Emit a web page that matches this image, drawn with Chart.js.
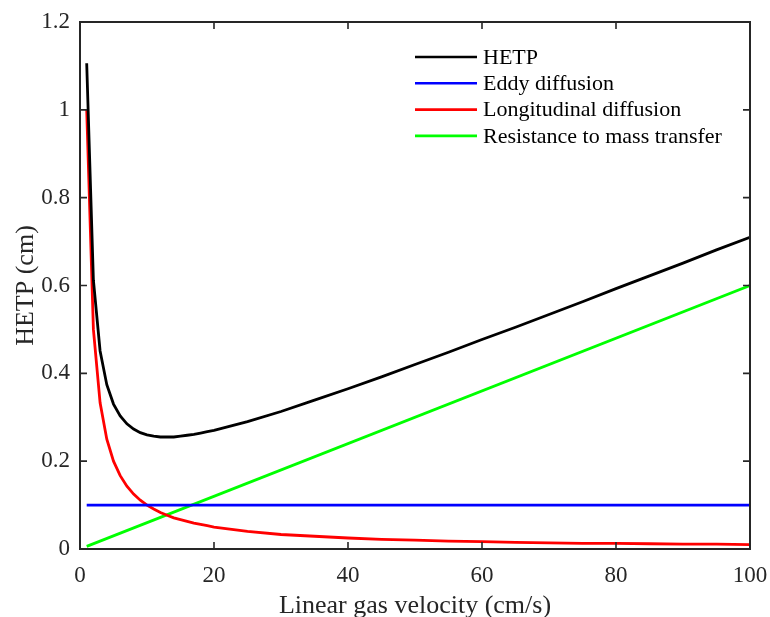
<!DOCTYPE html>
<html><head><meta charset="utf-8">
<script src="https://cdn.jsdelivr.net/npm/chart.js@4.4.0/dist/chart.umd.min.js"></script>
<style>html,body{margin:0;padding:0;background:#fff}#wrap{width:770px;height:617px}</style>
</head><body><div id="wrap"><canvas id="c" width="770" height="617"></canvas></div>
<script>
const velocity = [1,2,3,4,5,6,7,8,9,10,11,12,13,14,15,16,17,18,19,20,25,30,35,40,45,50,55,60,65,70,75,80,85,90,95,100];
const hetp = [1.106,0.612,0.451,0.374,0.330,0.303,0.285,0.273,0.265,0.260,0.257,0.255,0.255,0.255,0.257,0.259,0.261,0.264,0.267,0.270,0.290,0.313,0.339,0.365,0.392,0.420,0.448,0.477,0.505,0.534,0.563,0.593,0.622,0.651,0.681,0.710];
const longitudinal = [1.000,0.500,0.333,0.250,0.200,0.167,0.143,0.125,0.111,0.100,0.091,0.083,0.077,0.071,0.067,0.063,0.059,0.056,0.053,0.050,0.040,0.033,0.029,0.025,0.022,0.020,0.018,0.017,0.015,0.014,0.013,0.013,0.012,0.011,0.011,0.010];
const eddyX = [1,100];
const eddy = [0.1,0.1];
const massX = [1,100];
const mass = [0.006,0.6];
const seriesNames = ['HETP','Eddy diffusion','Longitudinal diffusion','Resistance to mass transfer'];
const xTicks = [0,20,40,60,80,100];
const yTicks = [0,0.2,0.4,0.6,0.8,1,1.2];

const pts = (xs, ys) => xs.map((x,i)=>({x:x,y:ys[i]}));
const FONT = "'Liberation Serif','Times New Roman',serif";
const AX = '#262626';

const frame = {
  id:'frame',
  afterDatasetsDraw(chart){
    const {ctx, chartArea:a, scales:{x,y}} = chart;
    ctx.save();
    ctx.strokeStyle = AX; ctx.lineWidth = 1.6;
    const tl = 7;
    ctx.beginPath();
    xTicks.forEach(v=>{const px=x.getPixelForValue(v);
      ctx.moveTo(px,a.bottom); ctx.lineTo(px,a.bottom-tl);
      ctx.moveTo(px,a.top); ctx.lineTo(px,a.top+tl);});
    yTicks.forEach(v=>{const py=y.getPixelForValue(v);
      ctx.moveTo(a.left,py); ctx.lineTo(a.left+tl,py);
      ctx.moveTo(a.right,py); ctx.lineTo(a.right-tl,py);});
    ctx.stroke();
    ctx.lineWidth = 2;
    ctx.strokeRect(a.left, a.top, a.right-a.left, a.bottom-a.top);
    // legend
    ctx.font = "22px " + FONT;
    ctx.textBaseline = 'middle';
    ctx.fillStyle = '#000';
    const lx0 = 415, lx1 = 477, tx = 483, y0 = 57, dy = 26.3;
    chart.data.datasets.forEach((d,i)=>{
      const yy = y0 + i*dy;
      ctx.strokeStyle = d.borderColor; ctx.lineWidth = 2.6;
      ctx.beginPath(); ctx.moveTo(lx0,yy); ctx.lineTo(lx1,yy); ctx.stroke();
      ctx.fillText(d.label, tx, yy+1);
    });
    ctx.restore();
  }
};

new Chart(document.getElementById('c'), {
  type:'line',
  data:{datasets:[
    {label:seriesNames[0], data:pts(velocity,hetp), borderColor:'#000000'},
    {label:seriesNames[1], data:pts(eddyX,eddy), borderColor:'#0000ff'},
    {label:seriesNames[2], data:pts(velocity,longitudinal), borderColor:'#ff0000'},
    {label:seriesNames[3], data:pts(massX,mass), borderColor:'#00ff00'}
  ]},
  plugins:[frame],
  options:{
    responsive:false, animation:false,
    layout:{padding:{left:0,top:22,right:20,bottom:0}},
    elements:{line:{borderWidth:2.8, tension:0, fill:false}, point:{radius:0}},
    plugins:{legend:{display:false}, tooltip:{enabled:false}},
    scales:{
      x:{type:'linear', min:0, max:100,
        afterBuildTicks:s=>{s.ticks=xTicks.map(v=>({value:v}));},
        afterFit:s=>{s.height=68; s.paddingLeft=0; s.paddingRight=0;},
        border:{display:false}, grid:{display:false, drawTicks:false},
        ticks:{color:'#262626', font:{family:FONT,size:23}, padding:13, maxRotation:0},
        title:{display:true, text:'Linear gas velocity (cm/s)', color:'#262626', font:{family:FONT,size:26}, padding:{top:0,bottom:-5}}
      },
      y:{type:'linear', min:0, max:1.2,
        afterBuildTicks:s=>{s.ticks=yTicks.map(v=>({value:v}));},
        afterFit:s=>{s.width=80; s.paddingTop=0; s.paddingBottom=0;},
        border:{display:false}, grid:{display:false, drawTicks:false},
        ticks:{color:'#262626', font:{family:FONT,size:23}, padding:10, callback:v=>String(+v.toFixed(1))},
        title:{display:true, text:'HETP (cm)', color:'#262626', font:{family:FONT,size:26}, padding:{top:11,bottom:0}}
      }
    }
  }
});
</script></body></html>
